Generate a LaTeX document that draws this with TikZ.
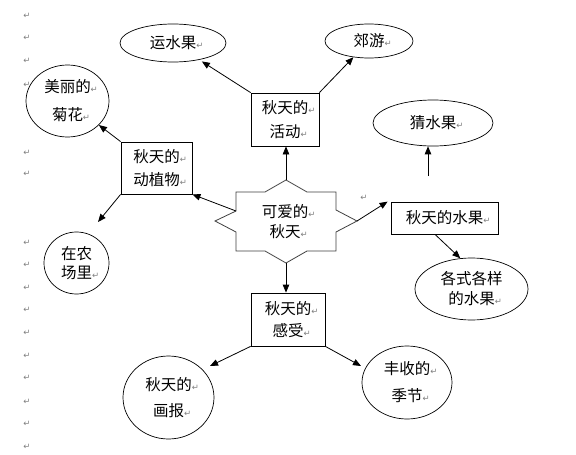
\documentclass[tikz,border=0pt]{standalone}
\usepackage{fontspec}
\newfontfamily\cjk{Noto Sans CJK SC}
\newfontfamily\symf{DejaVu Sans}
\usetikzlibrary{shapes.geometric,arrows.meta}
\newcommand\pmk{{\symf\fontsize{8.5}{8.5}\selectfont\color{black!50}↵}}
\newcommand\mk{\rlap{\pmk}}
\begin{document}
\begin{tikzpicture}[x=1pt,y=-1pt,
  ls/.style={font=\cjk\fontsize{15.5}{#1}\selectfont},
  ell/.style={ellipse,draw,line width=0.7pt,inner sep=0pt,align=center},
  bx/.style={rectangle,draw,line width=0.8pt,inner sep=0pt,align=center},
  arr/.style={draw,line width=0.8pt,-{Triangle[length=8pt,width=6.5pt]}},
  starline/.style={draw=black!75,line width=0.8pt,fill=white},
  pm/.style={inner sep=0pt,font=\symf\fontsize{8.5}{8.5}\selectfont,text=black!50}]
\useasboundingbox[fill=white] (0,0) rectangle (576,455);

% paragraph marks in the margin
\foreach \yy [count=\i] in {16,38,61,85,153,174,243,265,288,310,333,356,378,402,424,447}
  \node[pm] (pm\i) at (27,\yy) {↵};
\node[pm] (pmx) at (364,198) {↵};

% nodes
\node[ell,ls=20,minimum width=106pt,minimum height=38pt] (yun) at (173,43) {运水果\mk};
\node[ell,ls=20,minimum width=88pt,minimum height=34pt] (jy) at (369,41) {郊游\mk};
\node[bx,ls=24,minimum width=68pt,minimum height=53pt] (act) at (285,119.5) {秋天的\mk\\活动\mk};
\node[ell,ls=28,minimum width=83pt,minimum height=72pt] (ju) at (67.5,101) {美丽的\mk\\菊花\mk};
\node[bx,ls=23,minimum width=71pt,minimum height=52pt] (dz) at (156.5,168) {秋天的\mk\\动植物\mk};
\node[ell,ls=20,minimum width=120pt,minimum height=46pt] (guess) at (433,123) {猜水果\mk};
\node[bx,ls=20,minimum width=107pt,minimum height=32pt] (sg) at (444.5,218) {秋天的水果\mk};
\node[ell,ls=19,minimum width=65pt,minimum height=62pt] (farm) at (76.5,263) {在农\\场里\mk};
\node[bx,ls=22,minimum width=74pt,minimum height=53pt] (fe) at (288,319.5) {秋天的\mk\\感受\mk};
\node[ell,ls=20,minimum width=113pt,minimum height=62pt] (var) at (471.5,289) {各式各样\\的水果\mk};
\node[ell,ls=26,minimum width=91pt,minimum height=83pt] (hb) at (168.5,397.5) {秋天的\mk\\画报\mk};
\node[ell,ls=27,minimum width=90pt,minimum height=73pt] (fs) at (407,382.5) {丰收的\mk\\季节\mk};

% central star
\draw[starline,shift={(286,221)}] (0,-41) coordinate (sT) -- (21,-29) -- (50,-29) -- (50,-11)
  -- (71,0) coordinate (sR) -- (50,11) -- (50,30) -- (21,30) -- (0,42) coordinate (sB)
  -- (-21,30) -- (-50,30) -- (-50,11) -- (-71,0) -- (-50,-10) coordinate (sLu)
  -- (-50,-29) -- (-21,-29) -- cycle;
\node[ls=20,align=center,inner sep=0pt] (love) at (285,222) {可爱的\mk\\秋天\mk};

% connectors
\draw[arr,shorten >=3pt] (act.north west) -- (yun);
\draw[arr] (act.north east) -- (jy);
\draw[arr] (sT) -- (sT |- act.south);
\draw[arr] (dz.north west) -- (ju);
\coordinate (farmtip) at (98,222);
\draw[arr] (dz.south west) -- (farmtip);
\draw[arr] (sLu) -- (dz.south east);
\draw[arr] (sR) -- ([xshift=-3pt]sg.north west);
\coordinate (gs) at (428,176);
\draw[arr] (gs) -- (gs |- guess.south);
\draw[arr] ([xshift=-9.5pt]sg.south) -- (var.110);
\draw[arr] (sB) -- (sB |- fe.north);
\coordinate (hbtip) at (210,366);
\draw[arr] (fe.south west) -- (hbtip);
\coordinate (fstip) at (361,366);
\draw[arr] (fe.south east) -- (fstip);
\end{tikzpicture}
\end{document}
